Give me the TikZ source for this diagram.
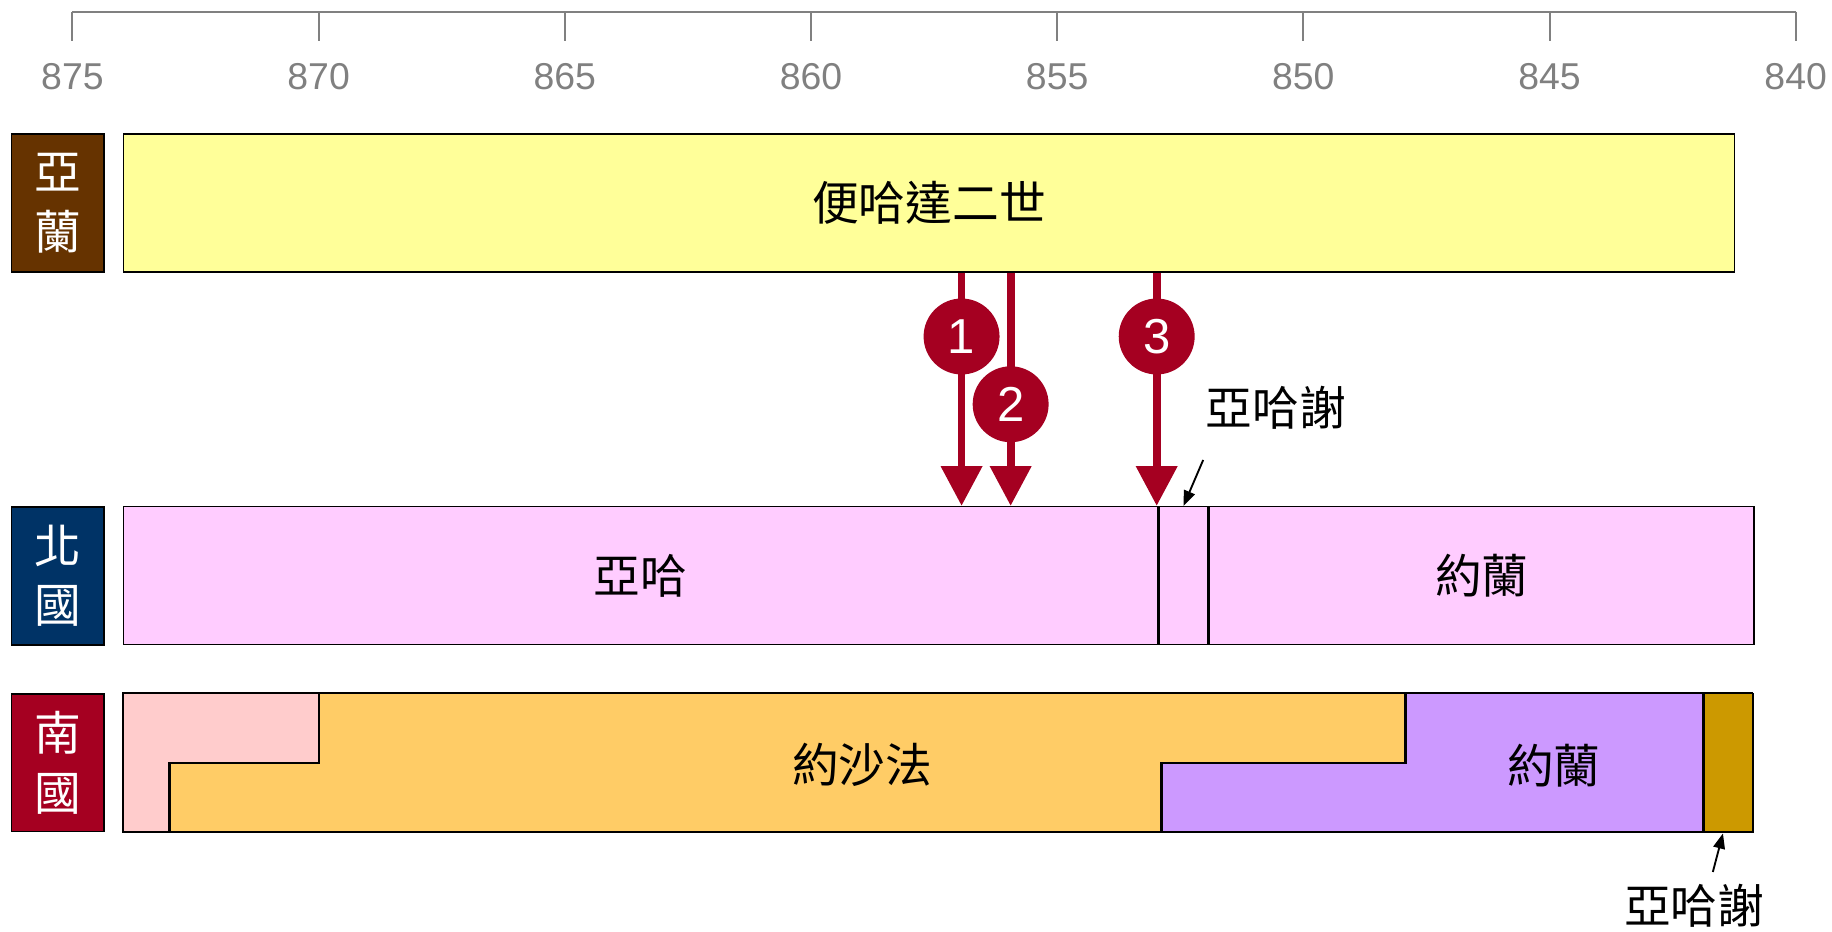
\documentclass[tikz,border=0pt]{standalone}
\usepackage{fontspec}
\setmainfont{Liberation Sans}
\newfontfamily\cjk{Noto Sans CJK TC}
\usetikzlibrary{arrows.meta,positioning}
\definecolor{aramc}{HTML}{663300}
\definecolor{northc}{HTML}{003366}
\definecolor{southc}{HTML}{A50021}
\definecolor{benc}{HTML}{FFFF99}
\definecolor{ahabc}{HTML}{FFCCFF}
\definecolor{asac}{HTML}{FFCCCC}
\definecolor{jehoc}{HTML}{FFCC66}
\definecolor{joramc}{HTML}{CC99FF}
\definecolor{ahazc}{HTML}{CC9900}
\definecolor{axisc}{HTML}{808080}

\begin{document}
\begin{tikzpicture}[x=1pt,y=-1pt,
  kingdom/.style={draw=black,line width=1.5pt,text=white,align=center,inner sep=0pt,
    minimum width=79pt,minimum height=118pt,anchor=north west,font=\cjk\fontsize{40}{51}\selectfont},
  bar/.style={draw=black,line width=1.3pt,inner sep=0pt,minimum height=118pt,
    anchor=north west,font=\cjk\fontsize{40}{48}\selectfont},
  cjklabel/.style={inner sep=0pt,font=\cjk\fontsize{40}{48}\selectfont},
  numc/.style={circle,fill=southc,text=white,inner sep=0pt,minimum size=65pt,
    font=\fontsize{42}{42}\selectfont},
  redarrow/.style={color=southc,line width=6.6pt,-{Triangle[width=34pt,length=34pt]}},
  smallarrow/.style={color=black,line width=1.6pt,-{Triangle[width=10pt,length=13pt]}},
  yeartick/.style={draw=axisc,line width=1.7pt},
  step line/.style={draw=black,line width=2pt}]
  \useasboundingbox (0,0) rectangle (1568,797);

  \draw[yeartick] (62,10) -- (1537,10);
  \foreach \yy [count=\i from 0] in {875,870,...,840} {
    \draw[yeartick] ({62+\i*210.7},10) -- ++(0,25);
    \node[text=axisc,font=\fontsize{32}{32}\selectfont] (t\yy) at ({62+\i*210.7},66) {\yy};
  }

  \node[kingdom,fill=aramc] (aram) at (9,114) {亞\\蘭};
  \node[kingdom,fill=northc] (north) at (9,433) {北\\國};
  \node[kingdom,fill=southc] (south) at (9,593) {南\\國};

  \node[bar,fill=benc,minimum width=1379pt] (ben) at (105,114) {便哈達二世};
  \node[bar,fill=ahabc,minimum width=885pt] (ahab) at (105,433) {亞哈};
  \node[bar,fill=ahabc,minimum width=42pt] (ahaz) at (ahab.north east) {};
  \node[bar,fill=ahabc,minimum width=466pt] (joram) at (ahaz.north east) {約蘭};

  \filldraw[step line,fill=asac] (105,593) -- (273,593) -- (273,653) -- (145,653)
    -- (145,712) -- (105,712) -- cycle;
  \filldraw[step line,fill=jehoc] (273,593) -- (1203,593) -- (1203,653) -- (994,653)
    -- (994,712) -- (145,712) -- (145,653) -- (273,653) -- cycle;
  \filldraw[step line,fill=joramc] (1203,593) -- (1458,593) -- (1458,712) -- (994,712)
    -- (994,653) -- (1203,653) -- cycle;
  \node[bar,fill=ahazc,minimum width=42pt,minimum height=119pt] (ahazS) at (1458,593) {};
  \draw[black,line width=1.3pt] (105,593) rectangle (1500,712);
  \node[cjklabel] (jehosh) at (738,655) {約沙法};
  \node[cjklabel] (joramS) at (1330,655) {約蘭};

  \coordinate (p1) at (823,288);
  \coordinate (p2) at (865,346);
  \coordinate (p3) at (990,288);
  \draw[redarrow] (ben.south -| p1) -- (ahab.north -| p1);
  \draw[redarrow] (ben.south -| p2) -- (ahab.north -| p2);
  \draw[redarrow] (ben.south -| p3) -- (ahab.north -| p3);
  \node[numc] (c1) at (p1) {1};
  \node[numc] (c2) at (p2) {2};
  \node[numc] (c3) at (p3) {3};

  \node[cjklabel] (ahazlab) at (1092,349) {亞哈謝};
  \draw[smallarrow] ([xshift=-2pt,yshift=-26pt]ahazlab.south west) -- (ahaz.north);
  \node[cjklabel] (ahazlabS) at (1450,775) {亞哈謝};
  \draw[smallarrow] ([xshift=16pt,yshift=10pt]ahazlabS.north) -- ([xshift=-5pt]ahazS.south);
\end{tikzpicture}
\end{document}
